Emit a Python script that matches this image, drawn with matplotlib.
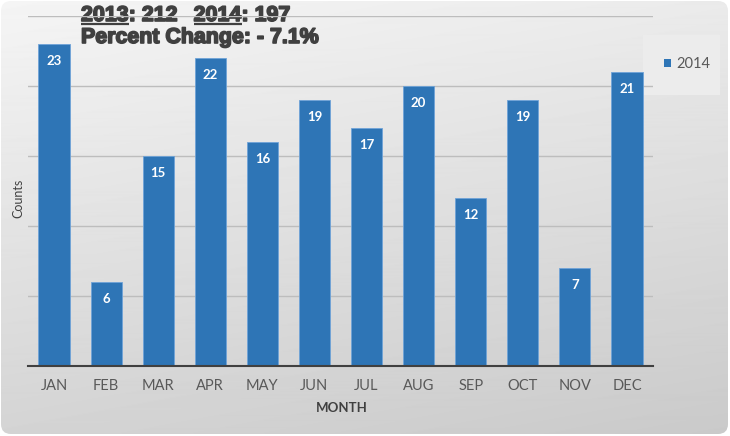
import numpy as np
import matplotlib
matplotlib.use("Agg")
import matplotlib.pyplot as plt
from matplotlib.patches import FancyBboxPatch, Rectangle
import matplotlib.patheffects as pe

plt.rcParams["font.family"] = ["Lato", "DejaVu Sans"]

months = ["JAN", "FEB", "MAR", "APR", "MAY", "JUN",
          "JUL", "AUG", "SEP", "OCT", "NOV", "DEC"]
counts_2014 = [23, 6, 15, 22, 16, 19, 17, 20, 12, 19, 7, 21]
total_2013 = 212
total_2014 = 197
pct_change = "- 7.1%"

W, H = 730, 436
fig = plt.figure(figsize=(W / 100, H / 100), dpi=100)
fig.patch.set_facecolor("white")

# gradient background with rounded corners
bg = fig.add_axes([0, 0, 1, 1], zorder=-5)
bg.set_xlim(0, W)
bg.set_ylim(H, 0)
bg.axis("off")
yy, xx = np.mgrid[0:H, 0:W]
shade = 0.96 - 0.13 * (yy / H) - 0.04 * (xx / W)
img = bg.imshow(shade, cmap="gray", vmin=0, vmax=1, extent=(0, W, H, 0),
                aspect="auto", interpolation="bilinear")
clip = FancyBboxPatch((1, 1), W - 3, H - 3, boxstyle="round,pad=0,rounding_size=10",
                      transform=bg.transData, facecolor="none", edgecolor="none")
bg.add_patch(clip)
img.set_clip_path(clip)

ax = fig.add_axes([28 / W, 70 / H, 625 / W, 350 / H])
ax.patch.set_alpha(0)
x = np.arange(len(months))
bars = ax.bar(x, counts_2014, width=0.6, color="#2e75b6",
              edgecolor="#6fa3d8", linewidth=0.6, zorder=3, label="2014")
for xi, v in zip(x, counts_2014):
    ax.annotate(str(v), (xi, v), xytext=(0, -12), textcoords="offset points",
                ha="center", va="center", color="white", fontsize=9.5,
                fontweight="bold", zorder=4)

ax.set_xlim(-0.5, len(months) - 0.5)
ax.set_ylim(0, 25)
ax.set_yticks([5, 10, 15, 20, 25])
ax.set_yticklabels([])
ax.tick_params(axis="y", length=0)
ax.grid(axis="y", color="#bdbdbd", linewidth=1, zorder=0)
ax.set_xticks(x)
ax.set_xticklabels(months, color="#595959", fontsize=10.5)
ax.tick_params(axis="x", length=0, pad=9)
for s in ["top", "right", "left"]:
    ax.spines[s].set_visible(False)
ax.spines["bottom"].set_color("#404040")
ax.spines["bottom"].set_linewidth(1.5)
ax.spines["bottom"].set_zorder(5)

fig.text(342 / W, 1 - 408 / H, "MONTH", ha="center", va="center",
         fontsize=9.5, fontweight="bold", color="#404040")
fig.text(18 / W, 1 - 198 / H, "Counts", ha="center", va="center",
         rotation=90, fontsize=9, color="#404040")

# legend box
bg.add_patch(Rectangle((643, 35), 77, 60, facecolor="#ececec", edgecolor="none"))
bg.add_patch(Rectangle((664, 59), 7, 8, facecolor="#2e75b6", edgecolor="none"))
bg.text(676, 63.5, "2014", ha="left", va="center", fontsize=10.5, color="#595959")

# header text with underlined years
title_kw = dict(fontsize=15.4, fontweight="bold", color="#404040",
                family="Liberation Sans", va="baseline", ha="left",
                path_effects=[pe.withStroke(linewidth=1.2, foreground="#404040")])
fig.canvas.draw()
renderer = fig.canvas.get_renderer()
pieces = [("2013", True), (": %d  " % total_2013, False),
          ("2014", True), (": %d" % total_2014, False)]
xpos = 81
for txt, underline in pieces:
    t = bg.text(xpos, 21, txt, **title_kw)
    w = t.get_window_extent(renderer).width
    if underline:
        bg.plot([xpos, xpos + w], [24, 24], color="#404040", lw=1.6,
                solid_capstyle="butt")
    xpos += w + (4 if txt.endswith("  ") else 0)
bg.text(81, 43, "Percent Change: " + pct_change, **title_kw)

fig.savefig("out.png", dpi=100)
